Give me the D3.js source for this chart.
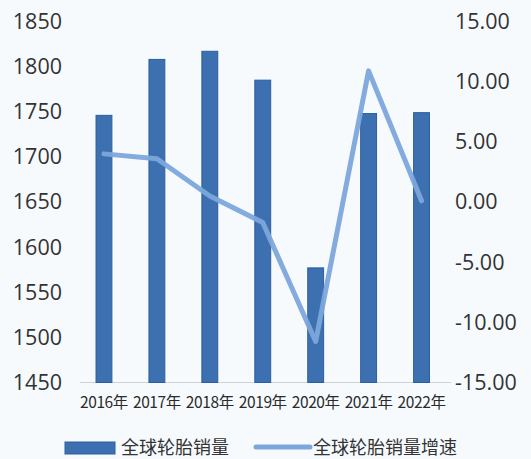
<!DOCTYPE html>
<html>
<head>
<meta charset="utf-8">
<script src="https://cdn.jsdelivr.net/npm/d3@7"></script>
<style>
  html, body { margin: 0; padding: 0; background: #f7fafd; }
  svg { display: block; }
</style>
</head>
<body>
<script>
// Global tyre sales (bars, left axis) and year-on-year growth % (line, right axis)
const years = ["2016年", "2017年", "2018年", "2019年", "2020年", "2021年", "2022年"];
const sales = [1746, 1808, 1817, 1785, 1577, 1748, 1749];
const growth = [4.0, 3.6, 0.5, -1.7, -11.6, 10.9, 0.1];
const leftTicks = [1450, 1500, 1550, 1600, 1650, 1700, 1750, 1800, 1850];
const rightTicks = [-15, -10, -5, 0, 5, 10, 15];
const seriesNames = ["全球轮胎销量", "全球轮胎销量增速"];

const W = 531, H = 459;
const barColor = "#3d70b0", barEdge = "#2c5e9e", lineColor = "#7ca7db";
const numFont = "'Open Sans', 'Liberation Sans', sans-serif";
const cjkFont = "'Noto Sans CJK SC', 'Noto Sans', sans-serif";

const svg = d3.select("body").append("svg").attr("width", W).attr("height", H);
svg.append("rect").attr("width", W).attr("height", H).attr("fill", "#f7fafd");

const x = d3.scaleBand().domain(years).range([77.5, 448]).paddingInner(0.7).paddingOuter(0.35);
const yL = d3.scaleLinear().domain([1450, 1850]).range([382.5, 21.5]);
const yR = d3.scaleLinear().domain([-15, 15]).range([382.5, 21.5]);

// baseline
svg.append("line").attr("x1", 80).attr("x2", 451).attr("y1", 382.5).attr("y2", 382.5)
  .attr("stroke", "#cfd3d8").attr("stroke-width", 1.2);

// left axis
const gL = svg.append("g").attr("transform", "translate(62,0)")
  .call(d3.axisLeft(yL).tickValues(leftTicks).tickSize(0).tickPadding(0).tickFormat(d3.format("d")));
gL.select(".domain").remove();
gL.selectAll("text").attr("font-family", numFont).attr("font-size", 21.5).attr("fill", "#333");

// right axis, plain hyphen for negatives
const fmtR = d => d3.format(".2f")(d).replace("\u2212", "-");
const gR = svg.append("g").attr("transform", "translate(455,0)")
  .call(d3.axisRight(yR).tickValues(rightTicks).tickSize(0).tickPadding(0).tickFormat(fmtR));
gR.select(".domain").remove();
gR.selectAll("text").attr("font-family", numFont).attr("font-size", 21.5).attr("fill", "#333");

// bars
svg.append("g").selectAll("rect").data(sales).join("rect")
  .attr("x", (d, i) => x(years[i]))
  .attr("width", x.bandwidth())
  .attr("y", d => yL(d))
  .attr("height", d => yL(1450) - yL(d))
  .attr("fill", barColor).attr("stroke", barEdge).attr("stroke-width", 1);

// growth line
const line = d3.line().x((d, i) => x(years[i]) + x.bandwidth() / 2).y(d => yR(d));
svg.append("path").datum(growth).attr("d", line)
  .attr("fill", "none").attr("stroke", lineColor).attr("stroke-width", 5)
  .attr("stroke-linejoin", "round").attr("stroke-linecap", "round").attr("opacity", 0.95);

// category labels
const gX = svg.append("g").attr("transform", "translate(0,382.5)")
  .call(d3.axisBottom(x).tickSize(0).tickPadding(14));
gX.select(".domain").remove();
gX.selectAll("text").attr("font-family", cjkFont).attr("font-size", 15.5).attr("fill", "#2b2b2b")
  .attr("letter-spacing", -0.4);

// legend
const lg = svg.append("g");
lg.append("rect").attr("x", 65).attr("y", 442).attr("width", 50).attr("height", 12)
  .attr("fill", barColor).attr("stroke", barEdge).attr("stroke-width", 1);
lg.append("text").attr("x", 121).attr("y", 448).attr("dy", "0.36em")
  .attr("font-family", cjkFont).attr("font-size", 18).attr("fill", "#333").text(seriesNames[0]);
lg.append("line").attr("x1", 256).attr("x2", 310).attr("y1", 447).attr("y2", 447)
  .attr("stroke", lineColor).attr("stroke-width", 5).attr("stroke-linecap", "round");
lg.append("text").attr("x", 313).attr("y", 448).attr("dy", "0.36em")
  .attr("font-family", cjkFont).attr("font-size", 18).attr("fill", "#333").text(seriesNames[1]);
</script>
</body>
</html>
